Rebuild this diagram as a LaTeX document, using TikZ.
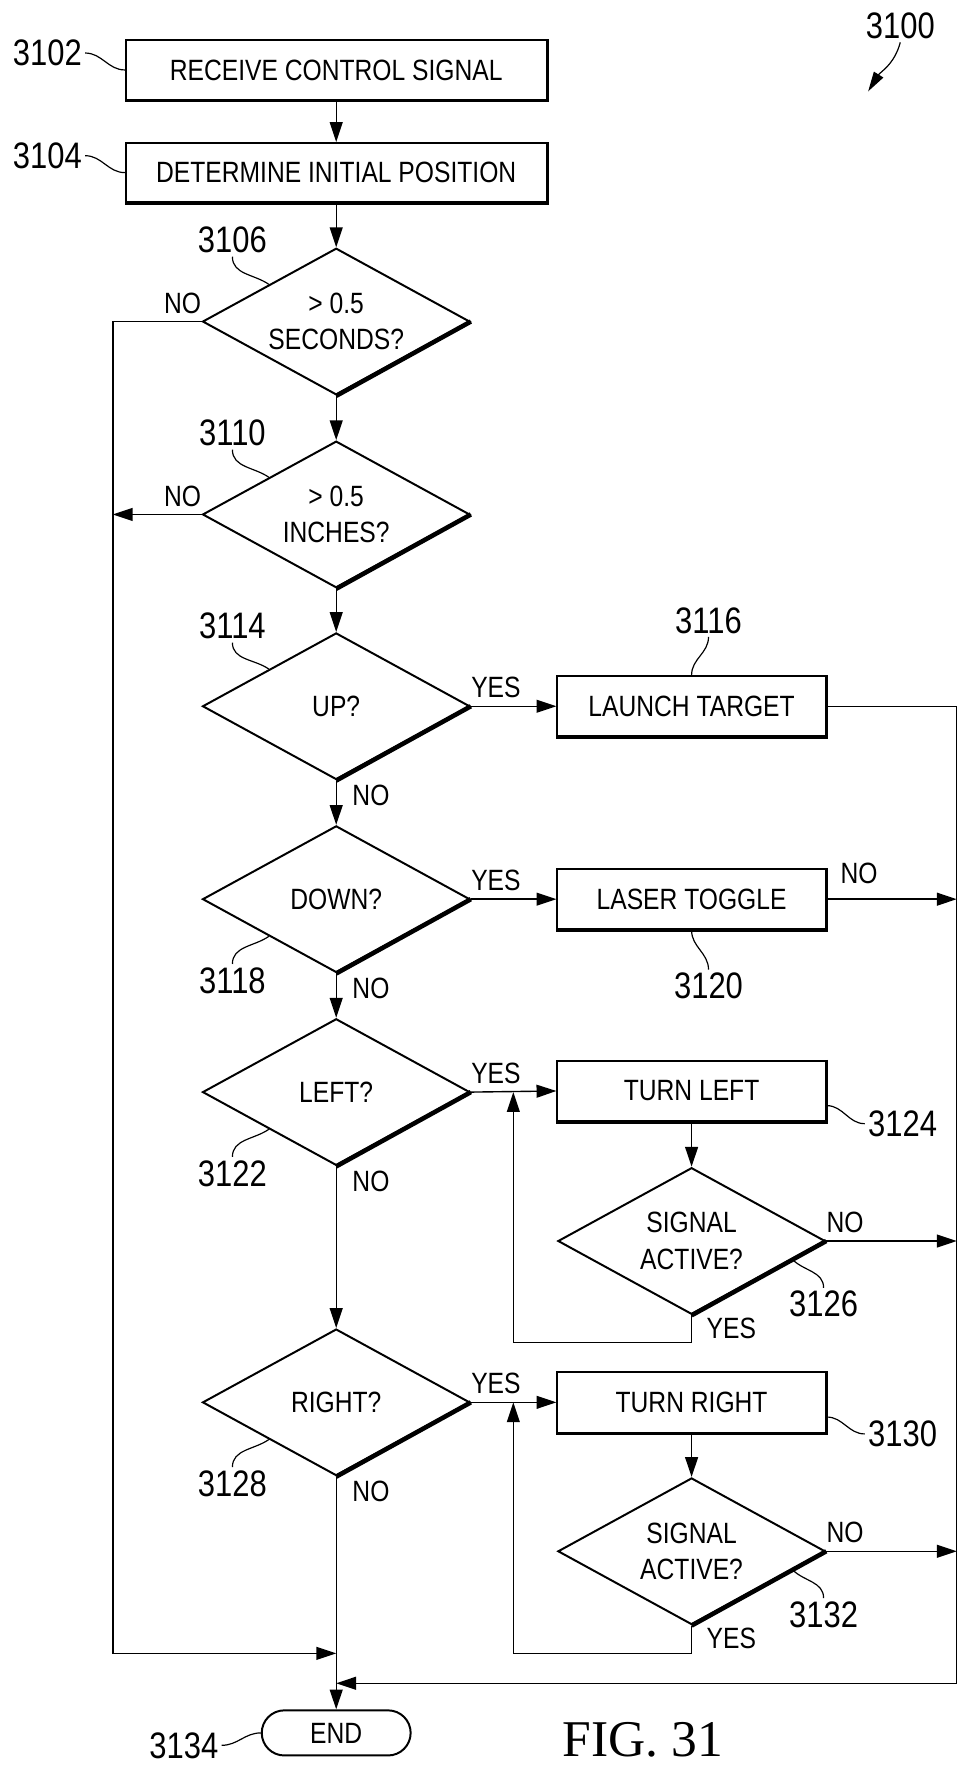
\documentclass[tikz,border=0pt]{standalone}
\usepackage{fontspec}
\setmainfont{Liberation Sans}[FakeStretch=0.84]
\newfontfamily\figfont{Liberation Serif}
\usetikzlibrary{shapes.geometric,arrows.meta,calc}

\begin{document}
\begin{tikzpicture}[x=0.02cm, y=-0.02cm,
  txt/.style={font=\fontsize{14.8}{18.4}\selectfont},
  refnum/.style={font=\fontsize{18.6}{20}\selectfont, inner sep=1.5pt},
  yn/.style={txt, inner sep=0pt},
  box/.style={txt, draw, line width=1pt, minimum width=4.76cm, minimum height=1.07cm, inner sep=0pt},
  widebox/.style={box, minimum width=7.46cm, minimum height=1.05cm},
  decision/.style={txt, draw, diamond, aspect=1.8, line width=1pt, minimum width=4.74cm, minimum height=2.6cm, inner sep=0pt, align=center},
  terminal/.style={txt, draw, line width=1pt, rounded corners=0.4cm, minimum width=2.64cm, minimum height=0.8cm, inner sep=0pt},
  flow/.style={line width=0.7pt, -{Triangle[length=10pt,width=6.5pt]}},
  lead/.style={line width=0.6pt}
]
\useasboundingbox (0,0) rectangle (850,1568);

% ===== 処理ボックス =====
\node[widebox] (b3102) at (298,62) {RECEIVE CONTROL SIGNAL};
\node[widebox] (b3104) at (298,153) {DETERMINE INITIAL POSITION};
\node[box] (b3116) at (613,626) {LAUNCH TARGET};
\node[box] (b3120) at (613,797) {LASER TOGGLE};
\node[box] (b3124) at (613,967) {TURN LEFT};
\node[box] (b3130) at (613,1243) {TURN RIGHT};
\node[terminal] (e3134) at (298,1536) {END};

% ===== 判断ブロック =====
\node[decision] (d3106) at (298,285) {> 0.5\\SECONDS?};
\node[decision] (d3110) at (298,456) {> 0.5\\INCHES?};
\node[decision] (d3114) at (298,626) {UP?};
\node[decision] (d3118) at (298,797) {DOWN?};
\node[decision] (d3122) at (298,968) {LEFT?};
\node[decision] (d3126) at (613,1100) {SIGNAL\\ACTIVE?};
\node[decision] (d3128) at (298,1243) {RIGHT?};
\node[decision] (d3132) at (613,1375) {SIGNAL\\ACTIVE?};

% 影の太線
\foreach \d in {d3106,d3110,d3114,d3118,d3122,d3126,d3128,d3132}
  \draw[line width=2.3pt] (\d.east) -- (\d.south);
\foreach \b in {b3102,b3104,b3116,b3120,b3124,b3130}
  \draw[line width=1.5pt] (\b.north east) -- (\b.south east) -- (\b.south west);

% ===== 分岐線の点 =====
\coordinate (busL) at (100,1465.5);
\coordinate (busR) at (848,1492);
\coordinate (jL) at (298,1465.5);
\coordinate (jR) at (298,1492);
\coordinate (r3126) at (455,1190);
\coordinate (r3132) at (455,1465.5);

% ===== 矢印 =====
\draw[flow] (b3102.south) -- (b3104.north);
\draw[flow] (b3104.south) -- (d3106.north);
\draw[flow] (d3106.south) -- (d3110.north);
\draw[flow] (d3110.south) -- (d3114.north);
\draw[flow] (d3114.south) -- (d3118.north);
\draw[flow] (d3118.south) -- (d3122.north);
\draw[flow] (d3122.south) -- (d3128.north);
\draw[flow] (d3128.south) -- (e3134.north);

\draw[flow] (d3114.east) -- (b3116.west);
\draw[flow] (d3118.east) -- (b3120.west);
\draw[flow] (d3122.east) -- (b3124.west);
\draw[flow] (d3128.east) -- (b3130.west);
\draw[flow] (b3124.south) -- (d3126.north);
\draw[flow] (b3130.south) -- (d3132.north);

% 左の線
\draw[flow] (d3106.west) -| (busL) -- (jL);
\draw[flow] (d3110.west) -- (d3110.west -| busL);

% 右の線
\draw[flow] (b3116.east) -| (busR) -- (jR);
\draw[flow] (b3120.east) -- (b3120.east -| busR);
\draw[flow] (d3126.east) -- (d3126.east -| busR);
\draw[flow] (d3132.east) -- (d3132.east -| busR);

% ループ
\draw[flow] (d3126.south) |- (r3126) -- (r3126 |- d3122.east);
\draw[flow] (d3132.south) |- (r3132) -- (r3132 |- d3128.east);

% ===== YES / NO =====
\node[yn, anchor=south east, yshift=3.5pt] (no3106) at (d3106.west) {NO};
\node[yn, anchor=south east, yshift=3.5pt] (no3110) at (d3110.west) {NO};
\node[yn, anchor=south west, yshift=4pt] (yes3114) at (d3114.east) {YES};
\node[yn, anchor=south west, yshift=4pt] (yes3118) at (d3118.east) {YES};
\node[yn, anchor=south west, yshift=4pt] (yes3122) at (d3122.east) {YES};
\node[yn, anchor=south west, yshift=4pt] (yes3128) at (d3128.east) {YES};
\node[yn, anchor=north west, xshift=8pt, yshift=-2pt] (no3114) at (d3114.south) {NO};
\node[yn, anchor=north west, xshift=8pt, yshift=-2pt] (no3118) at (d3118.south) {NO};
\node[yn, anchor=north west, xshift=8pt, yshift=-2pt] (no3122) at (d3122.south) {NO};
\node[yn, anchor=north west, xshift=8pt, yshift=-2pt] (no3128) at (d3128.south) {NO};
\node[yn, anchor=south west, xshift=6.8pt, yshift=7.4pt] (no3120) at (b3120.east) {NO};
\node[yn, anchor=south west, yshift=4pt] (no3126) at (d3126.east) {NO};
\node[yn, anchor=south west, yshift=4pt] (no3132) at (d3132.east) {NO};
\node[yn, anchor=north west, xshift=7.4pt, yshift=-1pt] (yes3126) at (d3126.south) {YES};
\node[yn, anchor=north west, xshift=7.4pt, yshift=-1pt] (yes3132) at (d3132.south) {YES};

% ===== 参照番号 =====
\node[refnum] (n3100) at (798,23) {3100};
\node[refnum] (n3102) at (42,47) {3102};
\node[refnum] (n3104) at (42,138) {3104};
\node[refnum] (n3106) at (206,213) {3106};
\node[refnum] (n3110) at (206,384) {3110};
\node[refnum] (n3114) at (206,555) {3114};
\node[refnum] (n3116) at (628,550) {3116};
\node[refnum] (n3118) at (206,869) {3118};
\node[refnum] (n3120) at (628,874) {3120};
\node[refnum] (n3122) at (206,1040) {3122};
\node[refnum] (n3124) at (800,996) {3124};
\node[refnum] (n3126) at (730,1156) {3126};
\node[refnum] (n3128) at (206,1315) {3128};
\node[refnum] (n3130) at (800,1271) {3130};
\node[refnum] (n3132) at (730,1431) {3132};
\node[refnum] (n3134) at (163,1547) {3134};

% 引き出し線
\coordinate (p3100) at (769.5,81);
\draw[lead, -{Triangle[length=10pt,width=5.5pt]}] (n3100.south) to[out=-105,in=58] (p3100);
\draw[lead] (n3102.east) to[out=0,in=180] (b3102.west);
\draw[lead] (n3104.east) to[out=0,in=180] (b3104.west);
\foreach \d in {3106,3110,3114}
  \draw[lead] (n\d.south) to[out=-90,in=145] (d\d.north west);
\foreach \d in {3118,3122,3128}
  \draw[lead] (d\d.south west) to[out=-145,in=90] (n\d.north);
\draw[lead] (n3116.south) to[out=-90,in=90] (b3116.north);
\draw[lead] (b3120.south) to[out=-90,in=90] (n3120.north);
\draw[lead] ([yshift=-7.4pt]b3124.east) to[out=0,in=180] (n3124.west);
\draw[lead] ([yshift=-7.4pt]b3130.east) to[out=0,in=180] (n3130.west);
\foreach \d in {3126,3132}
  \draw[lead] ($(d\d.south)!0.75!(d\d.east)$) to[out=-45,in=90] (n\d.north);
\draw[lead] (n3134.east) to[out=0,in=180] (e3134.west);

% ===== 図番号 =====
\node[font=\figfont\fontsize{26}{30}\selectfont] (fig) at (570,1542) {FIG. 31};

\end{tikzpicture}
\end{document}
